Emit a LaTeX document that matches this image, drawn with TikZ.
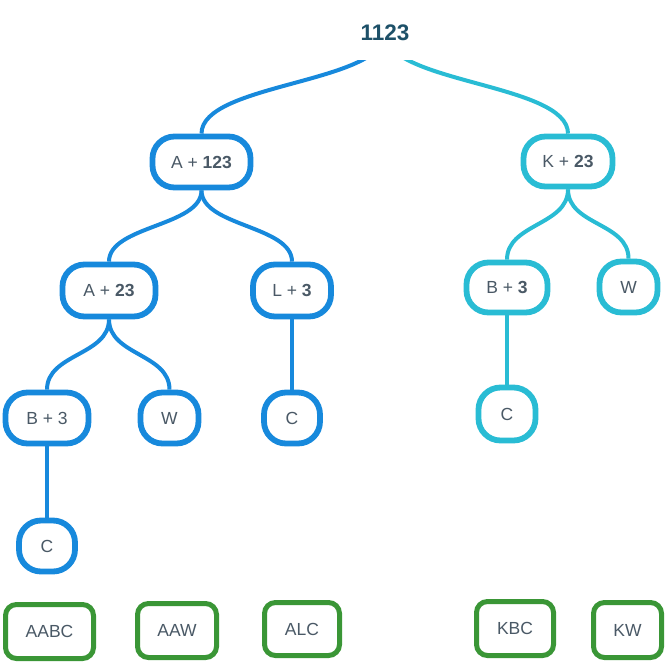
\documentclass[tikz,border=0pt]{standalone}
\usepackage{fontspec}
\setmainfont{Liberation Sans}
\usetikzlibrary{backgrounds}
\definecolor{blu}{HTML}{1789DC}
\definecolor{cya}{HTML}{29BCD4}
\definecolor{grn}{HTML}{3A9636}
\definecolor{txt}{HTML}{4A5966}
\definecolor{roottxt}{HTML}{1D5068}
\begin{document}
\begin{tikzpicture}[x=1pt,y=-1pt,
  tnode/.style={rectangle, rounded corners=22pt, line width=5.8pt, fill=white, inner sep=0pt, text=txt, font=\fontsize{17.5}{20}\selectfont},
  bnode/.style={tnode, draw=blu},
  cnode/.style={tnode, draw=cya},
  gnode/.style={rectangle, rounded corners=11pt, line width=5pt, draw=grn, fill=white, inner sep=0pt, text=txt, font=\fontsize{17.5}{20}\selectfont},
  bedge/.style={draw=blu, line width=4pt},
  cedge/.style={draw=cya, line width=4pt}]
\useasboundingbox (0,0) rectangle (666,662);

% root
\node[fill=white, inner sep=0pt, minimum width=92pt, minimum height=54pt, text=roottxt, font=\fontsize{22.5}{26}\selectfont\bfseries] (root) at (385,33) {1123};

% blue tree
\node[bnode, minimum width=98pt, minimum height=51pt] (a123) at (201.5,162) {A + \textbf{123}};
\node[bnode, minimum width=93pt, minimum height=52pt] (a23) at (109,290.5) {A + \textbf{23}};
\node[bnode, minimum width=78pt, minimum height=52pt] (l3) at (292,290.5) {L + \textbf{3}};
\node[bnode, minimum width=83pt, minimum height=51pt] (b3l) at (47,418) {B + 3};
\node[bnode, minimum width=58pt, minimum height=51pt] (wl) at (169.5,418) {W};
\node[bnode, minimum width=56pt, minimum height=51pt] (cl3) at (292,418) {C};
\node[bnode, minimum width=56pt, minimum height=51pt] (cb) at (47,546) {C};

% cyan tree
\node[cnode, minimum width=89pt, minimum height=50pt] (k23) at (568,161.5) {K + \textbf{23}};
\node[cnode, minimum width=81pt, minimum height=50pt] (b3r) at (507,287.5) {B + \textbf{3}};
\node[cnode, minimum width=58pt, minimum height=51pt] (wr) at (628.5,287) {W};
\node[cnode, minimum width=57pt, minimum height=53pt] (cr) at (507,414) {C};

% results
\node[gnode, minimum width=88pt, minimum height=54pt] (aabc) at (49.5,631.5) {AABC};
\node[gnode, minimum width=79pt, minimum height=54pt] (aaw) at (177,630.5) {AAW};
\node[gnode, minimum width=75pt, minimum height=53pt] (alc) at (302,629) {ALC};
\node[gnode, minimum width=77pt, minimum height=54pt] (kbc) at (515,628.5) {KBC};
\node[gnode, minimum width=68pt, minimum height=55pt] (kw) at (627.5,630) {KW};

\begin{scope}[on background layer]
\draw[bedge] (root.center) .. controls +(0,50.5) and +(0,-50.5) .. (a123.north);
\draw[cedge] (root.center) .. controls +(0,50.5) and +(0,-50.5) .. (k23.north);
\draw[bedge] (a123.south) .. controls +(0,36) and +(0,-36) .. (a23.north);
\draw[bedge] (a123.south) .. controls +(0,36) and +(0,-36) .. (l3.north);
\draw[bedge] (a23.south) .. controls +(0,36) and +(0,-36) .. (b3l.north);
\draw[bedge] (a23.south) .. controls +(0,36) and +(0,-36) .. (wl.north);
\draw[bedge] (l3.south) -- (cl3.north);
\draw[bedge] (b3l.south) -- (cb.north);
\draw[cedge] (k23.south) .. controls +(0,36) and +(0,-36) .. (b3r.north);
\draw[cedge] (k23.south) .. controls +(0,36) and +(0,-36) .. (wr.north);
\draw[cedge] (b3r.south) -- (cr.north);
\end{scope}
\end{tikzpicture}
\end{document}
